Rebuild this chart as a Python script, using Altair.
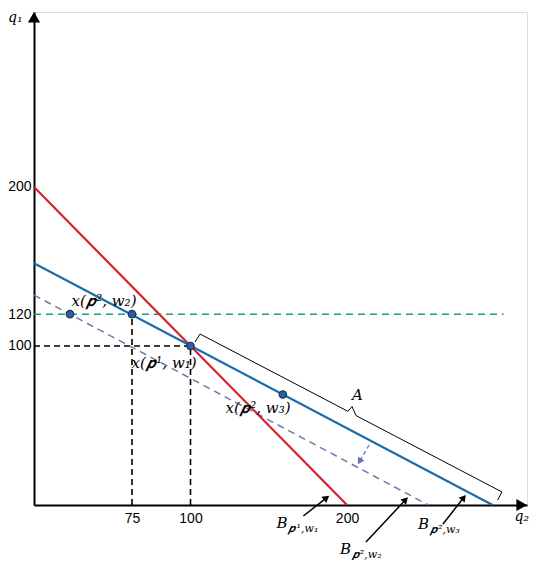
import altair as alt
import pandas as pd

# ---------------- data (q2 on x, q1 on y) ----------------
X_MAX = 315.0
Y_MAX = 310.0

# axis tick positions and their labels
XT_POS = [62.6, 100, 200]
XT_LAB = ["75", "100", "200"]
YT_POS = [100, 120, 200]
YT_LAB = ["100", "120", "200"]

# budget lines: start (x, y) -> end (x2, y2)
BUD_NAME = ["B_p1_w1", "B_p2_w3"]
BUD_X = [0, 0]
BUD_Y = [200, 152]
BUD_X2 = [200, 293]
BUD_Y2 = [0, 0]
BUD_COL = ["#d6202c", "#1b6ca8"]

DASH_X, DASH_Y, DASH_X2, DASH_Y2 = [0], [132], [252], [0]      # B_p2_w2
GREEN_X, GREEN_Y, GREEN_X2, GREEN_Y2 = [0], [120], [300], [120]  # q1 = 120

# black dashed guide segments
GUIDE_X = [0, 100, 62.6]
GUIDE_Y = [100, 0, 0]
GUIDE_X2 = [100, 100, 62.6]
GUIDE_Y2 = [100, 100, 120]

# bundles
PT_X = [23, 62.6, 100, 159]
PT_Y = [120, 120, 100, 69.5]

# brace "A"
BRACE_X = [102.9, 106.1, 200.6, 203.2, 205.8, 299.0, 296.2]
BRACE_Y = [102.5, 107.5, 58.9, 61.9, 56.2, 8.2, 3.1]

# labels
LAB_TEXT = ["x(𝒑\u200a², w₂)", "x(𝒑\u200a¹, w₁)", "x(𝒑\u200a², w₃)", "A"]
LAB_X = [44.7, 83.1, 143.1, 206.7]
LAB_Y = [125.2, 86.2, 57.9, 66.0]

B_X = [155.0, 195.5, 245.4]
B_Y = [-14.5, -31.0, -15.1]
SUB_TEXT = ["𝒑\u200a¹,w₁", "𝒑\u200a²,w₂", "𝒑\u200a²,w₃"]
SUB_X = [162.6, 203.0, 253.0]
SUB_Y = [-17.0, -33.5, -17.6]

AX_TEXT = ["q₁", "q₂"]
AX_TX = [-16.6, 307.0]
AX_TY = [303.8, -10.1]

# annotation arrows (tail -> head centre), head angle in degrees
ARR_X = [172.1, 212.1, 261.2]
ARR_Y = [-6.9, -23.3, -12.1]
ARR_X2 = [186.9, 237.4, 274.6]
ARR_Y2 = [4.5, 3.3, 4.7]
ARR_ANG = [52.8, 43.0, 38.1]

SHIFT_X, SHIFT_Y, SHIFT_X2, SHIFT_Y2, SHIFT_ANG = [214.1], [37.7], [208.0], [27.4], [210.0]

AXH_X = [311.6, 0]
AXH_Y = [0, 306.7]
AXH_SHAPE = ["triangle-right", "triangle-up"]

# ---------------- encodings ----------------
def lab_expr(pos, lab):
    s = "''"
    for p, l in reversed(list(zip(pos, lab))):
        s = f"datum.value == {p} ? '{l}' : ({s})"
    return s

xscale = alt.Scale(domain=[0, X_MAX], nice=False, zero=False)
yscale = alt.Scale(domain=[0, Y_MAX], nice=False, zero=False)
axis_common = dict(title=None, grid=False, ticks=False, domain=True, domainColor="black",
                   domainWidth=2, labelFont="Liberation Sans", labelFontSize=14,
                   labelColor="black")
X = alt.X("x:Q", scale=xscale,
          axis=alt.Axis(values=XT_POS, labelExpr=lab_expr(XT_POS, XT_LAB), labelPadding=6,
                        **axis_common))
Y = alt.Y("y:Q", scale=yscale,
          axis=alt.Axis(values=YT_POS, labelExpr=lab_expr(YT_POS, YT_LAB), labelPadding=3,
                        **axis_common))
X2 = alt.X2("x2:Q")
Y2 = alt.Y2("y2:Q")

def seg_df(xs, ys, x2s, y2s, **extra):
    d = pd.DataFrame({"x": xs, "y": ys, "x2": x2s, "y2": y2s})
    for k, v in extra.items():
        d[k] = v
    return d

bud = seg_df(BUD_X, BUD_Y, BUD_X2, BUD_Y2, name=BUD_NAME, col=BUD_COL)
budget = alt.Chart(bud).mark_rule(strokeWidth=2.2).encode(
    x=X, y=Y, x2=X2, y2=Y2, color=alt.Color("col:N", scale=None))

dashed = alt.Chart(seg_df(DASH_X, DASH_Y, DASH_X2, DASH_Y2)).mark_rule(
    strokeWidth=1.5, color="#6e78a8", strokeDash=[7, 5]).encode(x=X, y=Y, x2=X2, y2=Y2)

green = alt.Chart(seg_df(GREEN_X, GREEN_Y, GREEN_X2, GREEN_Y2)).mark_rule(
    strokeWidth=1.5, color="#1f9e6e", strokeDash=[7, 5]).encode(x=X, y=Y, x2=X2, y2=Y2)

guides = alt.Chart(seg_df(GUIDE_X, GUIDE_Y, GUIDE_X2, GUIDE_Y2)).mark_rule(
    strokeWidth=1.6, color="black", strokeDash=[6, 4]).encode(x=X, y=Y, x2=X2, y2=Y2)

brace = alt.Chart(pd.DataFrame({"x": BRACE_X, "y": BRACE_Y, "o": range(len(BRACE_X))})).mark_line(
    color="black", strokeWidth=1).encode(x=X, y=Y, order="o:Q")

points = alt.Chart(pd.DataFrame({"x": PT_X, "y": PT_Y})).mark_point(
    filled=True, size=55, color="#2f5f9f", stroke="#1a3560", strokeWidth=1.2, opacity=1
).encode(x=X, y=Y)

labels = alt.Chart(pd.DataFrame({"x": LAB_X, "y": LAB_Y, "t": LAB_TEXT})).mark_text(
    font="DejaVu Serif", fontStyle="italic", fontSize=15, align="center",
    baseline="alphabetic", color="black").encode(x=X, y=Y, text="t:N")

b_main = alt.Chart(pd.DataFrame({"x": B_X, "y": B_Y, "t": ["B"] * 3})).mark_text(
    font="DejaVu Serif", fontStyle="italic", fontSize=15, align="left",
    baseline="alphabetic", color="black").encode(x=X, y=Y, text="t:N")
b_sub = alt.Chart(pd.DataFrame({"x": SUB_X, "y": SUB_Y, "t": SUB_TEXT})).mark_text(
    font="DejaVu Serif", fontStyle="italic", fontSize=11, align="left",
    baseline="alphabetic", color="black").encode(x=X, y=Y, text="t:N")

ax_text = alt.Chart(pd.DataFrame({"x": AX_TX, "y": AX_TY, "t": AX_TEXT})).mark_text(
    font="DejaVu Serif", fontStyle="italic", fontSize=14, align="left",
    baseline="alphabetic", color="black").encode(x=X, y=Y, text="t:N")

arr_df = pd.DataFrame({"x": ARR_X, "y": ARR_Y, "x2": ARR_X2, "y2": ARR_Y2, "a": ARR_ANG})
arr_lines = alt.Chart(arr_df).mark_rule(color="black", strokeWidth=1.5).encode(
    x=X, y=Y, x2=X2, y2=Y2)
arr_heads = alt.Chart(arr_df).mark_point(
    shape="triangle-up", filled=True, size=60, color="black", opacity=1).encode(
    x=alt.X("x2:Q", scale=xscale), y=alt.Y("y2:Q", scale=yscale),
    angle=alt.Angle("a:Q", scale=None))

sh_df = pd.DataFrame({"x": SHIFT_X, "y": SHIFT_Y, "x2": SHIFT_X2, "y2": SHIFT_Y2, "a": SHIFT_ANG})
sh_line = alt.Chart(sh_df).mark_rule(color="#6670c0", strokeWidth=1.3, strokeDash=[4, 3]).encode(
    x=X, y=Y, x2=X2, y2=Y2)
sh_head = alt.Chart(sh_df).mark_point(
    shape="triangle-up", filled=True, size=55, color="#6670c0", opacity=1).encode(
    x=alt.X("x2:Q", scale=xscale), y=alt.Y("y2:Q", scale=yscale),
    angle=alt.Angle("a:Q", scale=None))

axh = alt.Chart(pd.DataFrame({"x": AXH_X, "y": AXH_Y, "s": AXH_SHAPE})).mark_point(
    filled=True, size=150, color="black", opacity=1).encode(
    x=X, y=Y, shape=alt.Shape("s:N", scale=None))

chart = alt.layer(
    guides, green, dashed, budget, brace, sh_line, sh_head, points, labels,
    arr_lines, arr_heads, b_main, b_sub, ax_text, axh
).properties(
    width=493, height=493, autosize="none",
    padding={"left": 26, "top": 4, "right": 5, "bottom": 55}
).configure_view(stroke=None).configure(background="white")

chart.save("out.html", embed_options={"renderer": "svg", "actions": False})
